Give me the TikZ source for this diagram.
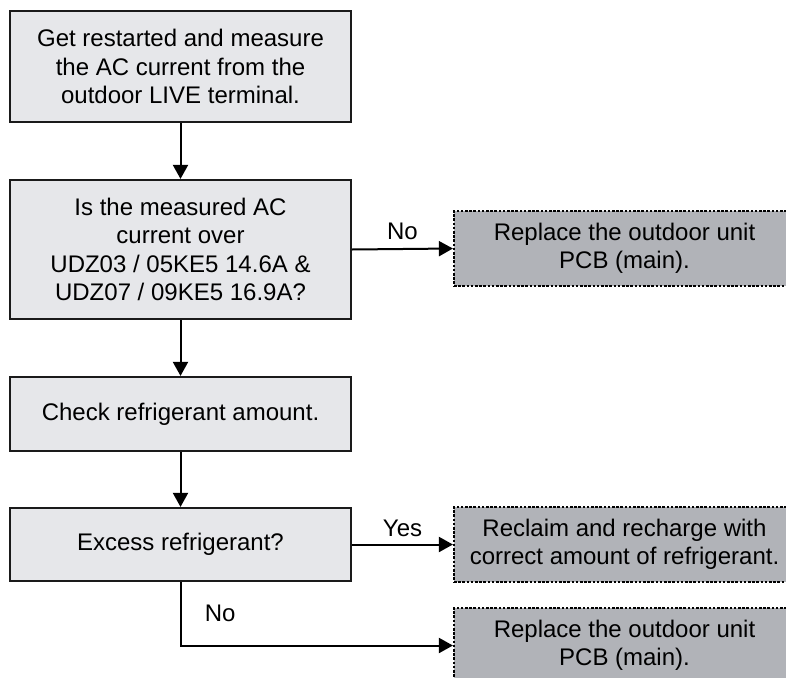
\documentclass[tikz,border=0pt]{standalone}
\usepackage{fontspec}
\setmainfont{Liberation Sans}
\usetikzlibrary{arrows.meta}
\definecolor{stepgray}{HTML}{E6E7EA}
\definecolor{fixgray}{HTML}{B1B3B8}
\definecolor{edgeblack}{HTML}{1A1A1A}
\tikzset{
  stepbox/.style={draw=edgeblack,line width=2.2pt,fill=stepgray,minimum width=341pt,
    align=center,font=\fontsize{24}{28.3}\selectfont},
  fixbox/.style={draw=black,line width=2.2pt,dash pattern=on 2.6pt off 1.6pt,fill=fixgray,
    minimum width=341pt,minimum height=75pt,align=center,font=\fontsize{24}{28.3}\selectfont},
  flow/.style={->,line width=2pt},
  answer/.style={font=\fontsize{24}{28.3}\selectfont}
}

\begin{document}
\begin{tikzpicture}[x=1pt,y=-1pt,>={Triangle[length=14pt,width=15pt]}]
  \useasboundingbox (0,0) rectangle (786,677);
  \node[stepbox,minimum height=111pt] (restart) at (180.5,66.5)
    {Get restarted and measure\\the AC current from the\\outdoor LIVE terminal.};
  \node[stepbox,minimum height=139pt] (current) at (180.5,249.5)
    {Is the measured AC\\current over\\UDZ03 / 05KE5 14.6A \&\\UDZ07 / 09KE5 16.9A?};
  \node[fixbox] (pcbA) at (624.5,248.5) {Replace the outdoor unit\\PCB (main).};
  \node[stepbox,minimum height=74pt] (check) at (180.5,414) {Check refrigerant amount.};
  \node[stepbox,minimum height=73pt] (excess) at (180.5,544.5) {Excess refrigerant?};
  \node[fixbox] (reclaim) at (624.5,544.5) {Reclaim and recharge with\\correct amount of refrigerant.};
  \node[fixbox] (pcbB) at (624.5,645.5) {Replace the outdoor unit\\PCB (main).};

  \draw[flow] (restart) -- (current);
  \draw[flow] (current.east) -- (pcbA.west) node (noA) [answer,midway,above,yshift=5pt] {No};
  \draw[flow] (current) -- (check);
  \draw[flow] (check) -- (excess);
  \draw[flow] (excess.east) -- (reclaim.west) node (yes) [answer,midway,above,yshift=3pt] {Yes};
  \draw[flow] (excess.south) |- (pcbB.west) node (noB) [answer,pos=0.25,right=20pt] {No};
\end{tikzpicture}
\end{document}
